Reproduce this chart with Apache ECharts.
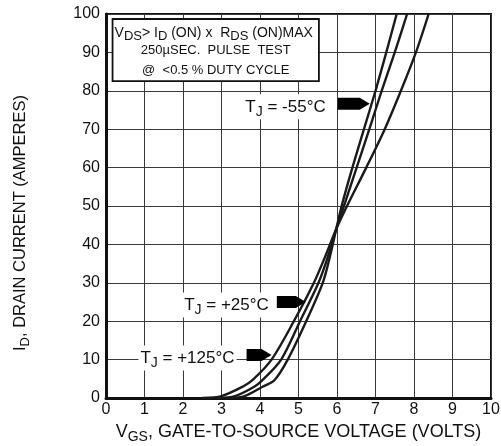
<!DOCTYPE html>
<html><head><meta charset="utf-8">
<script src="https://cdn.jsdelivr.net/npm/echarts@6/dist/echarts.min.js"></script>
<style>html,body{margin:0;padding:0;background:#fff}#c{width:501px;height:446px}</style>
</head><body><div id="c"></div>
<script>
// Drain current sample levels (A) shared by all three curves
const drainCurrent = [0, 0.5, 3, 4.7, 10, 20, 30, 37, 44, 50, 60, 70, 80, 90, 100];
// Gate-to-source voltage (V) at those currents, per junction temperature
const vgsMinus55 = [3.2, 3.6, 4.08, 4.38, 4.72, 5.20, 5.63, 5.82, 5.98, 6.12, 6.40, 6.70, 7.00, 7.28, 7.55];
const vgsPlus25  = [2.9, 3.35, 3.86, 4.07, 4.55, 5.04, 5.52, 5.77, 5.98, 6.18, 6.51, 6.84, 7.16, 7.50, 7.82];
const vgsPlus125 = [2.5, 3.0, 3.56, 3.81, 4.30, 4.88, 5.40, 5.70, 5.98, 6.26, 6.76, 7.24, 7.66, 8.05, 8.38];
const xTicks = [0, 1, 2, 3, 4, 5, 6, 7, 8, 9, 10];
const yTicks = [0, 10, 20, 30, 40, 50, 60, 70, 80, 90, 100];
const curveNames = ['-55°C', '+25°C', '+125°C'];

// layout of annotations (data coordinates of arrow tips)
const labelLayout = [
  { text: '= -55°C',  tip: [6.85, 76.6], len: 32, gap: 10 },
  { text: '= +25°C',  tip: [5.19, 25.0], len: 29, gap: 6 },
  { text: '= +125°C', tip: [4.30, 11.2], len: 25, gap: 10 }
];
const boxLayout = { topLeft: [0.17, 98.7], bottomRight: [5.53, 82.5] };

const FONT = '"Liberation Sans", Arial, Helvetica, sans-serif';
const INK = '#111';

function pairs(xs) { return xs.map((x, i) => [x, drainCurrent[i]]); }
const curveData = [vgsMinus55, vgsPlus25, vgsPlus125];

const chart = echarts.init(document.getElementById('c'), null, { renderer: 'canvas' });
const option = {
  animation: false,
  backgroundColor: '#fff',
  grid: { left: 106, right: 10, top: 14, bottom: 48, outerBoundsMode: 'none', containLabel: false,
    show: true, borderColor: INK, borderWidth: 2, backgroundColor: 'transparent' },
  xAxis: {
    type: 'value', min: xTicks[0], max: xTicks[xTicks.length - 1], interval: xTicks[1] - xTicks[0],
    axisLine: { show: true, onZero: false, lineStyle: { color: INK, width: 3 } },
    axisTick: { show: false },
    axisLabel: { color: INK, fontSize: 16, fontFamily: FONT, margin: 4, showMaxLabel: true },
    splitLine: { show: true, lineStyle: { color: '#3a3a3a', width: 1 } },
    name: '{n|V}{s|GS}{n|, GATE-TO-SOURCE VOLTAGE (VOLTS)}',
    nameLocation: 'middle', nameGap: 12,
    nameTextStyle: {
      color: INK, fontFamily: FONT,
      rich: {
        n: { fontSize: 18, color: INK, fontFamily: FONT },
        s: { fontSize: 14, color: INK, fontFamily: FONT, padding: [11, 0, 0, 0] }
      }
    }
  },
  yAxis: {
    type: 'value', min: yTicks[0], max: yTicks[yTicks.length - 1], interval: yTicks[1] - yTicks[0],
    axisLine: { show: true, onZero: false, lineStyle: { color: INK, width: 3 } },
    axisTick: { show: false },
    axisLabel: { color: INK, fontSize: 16, fontFamily: FONT, margin: 6, showMaxLabel: true },
    splitLine: { show: true, lineStyle: { color: '#3a3a3a', width: 1 } }
  },
  series: curveData.map((xs, i) => ({
    name: curveNames[i], type: 'line', data: pairs(xs),
    showSymbol: false, smooth: 0.3, clip: true,
    lineStyle: { color: '#1a1a1a', width: 2.4 }, z: 5
  }))
};
chart.setOption(option);

const px = (p) => chart.convertToPixel({ gridIndex: 0 }, p);
const graphics = [];

// annotation box
const tl = px(boxLayout.topLeft), br = px(boxLayout.bottomRight);
graphics.push({ type: 'rect', shape: { x: tl[0], y: tl[1], width: br[0] - tl[0], height: br[1] - tl[1] },
  style: { fill: '#fff', stroke: INK, lineWidth: 1.8 }, z: 10 });
const boxW = br[0] - tl[0], boxH = br[1] - tl[1];
const richBox = {
  n: { fontSize: 14, fontFamily: FONT, fill: INK },
  s: { fontSize: 13, fontFamily: FONT, fill: INK, padding: [8, 0, 0, 0] }
};
graphics.push({ type: 'text', x: tl[0] + 2, y: tl[1] + boxH * 0.22, z: 11,
  style: { text: '{n|V}{s|DS}{n|> I}{s|D}{n| (ON) x  R}{s|DS}{n| (ON)MAX}', rich: richBox, align: 'left', verticalAlign: 'middle' } });
graphics.push({ type: 'text', x: tl[0] + boxW / 2, y: tl[1] + boxH * 0.51, z: 11,
  style: { text: '250µSEC.  PULSE  TEST', fontSize: 13, fontFamily: FONT, fill: INK, align: 'center', verticalAlign: 'middle' } });
graphics.push({ type: 'text', x: tl[0] + boxW / 2, y: tl[1] + boxH * 0.82, z: 11,
  style: { text: '@  <0.5 % DUTY CYCLE', fontSize: 13, fontFamily: FONT, fill: INK, align: 'center', verticalAlign: 'middle' } });

// curve labels with arrows
labelLayout.forEach((l) => {
  const t = px(l.tip);
  const h = 6, head = 10;
  graphics.push({ type: 'polygon', z: 12,
    shape: { points: [[t[0] - l.len, t[1] - h], [t[0] - head, t[1] - h], [t[0], t[1]], [t[0] - head, t[1] + h], [t[0] - l.len, t[1] + h]] },
    style: { fill: '#000' } });
  graphics.push({ type: 'text', z: 12, x: t[0] - l.len - l.gap, y: t[1] + 3,
    style: {
      text: '{t|T}{j|J}{t| ' + l.text + '}',
      rich: {
        t: { fontSize: 17, fontFamily: FONT, fill: INK },
        j: { fontSize: 14, fontFamily: FONT, fill: INK, padding: [11, 0, 0, 0] }
      },
      align: 'right', verticalAlign: 'middle', backgroundColor: '#fff', padding: [0, 2, 0, 2]
    } });
});

// y-axis title
const gridTop = px([0, 100])[1], gridBot = px([0, 0])[1];
graphics.push({ type: 'text', x: 20, y: (gridTop + gridBot) / 2 + 17, rotation: Math.PI / 2, z: 10,
  style: {
    text: '{n|I}{s|D}{n|, DRAIN CURRENT (AMPERES)}',
    rich: {
      n: { fontSize: 16.5, fontFamily: FONT, fill: INK },
      s: { fontSize: 13, fontFamily: FONT, fill: INK, padding: [10, 0, 0, 0] }
    },
    align: 'center', verticalAlign: 'middle'
  } });

chart.setOption({ graphic: graphics });
</script>
</body></html>
